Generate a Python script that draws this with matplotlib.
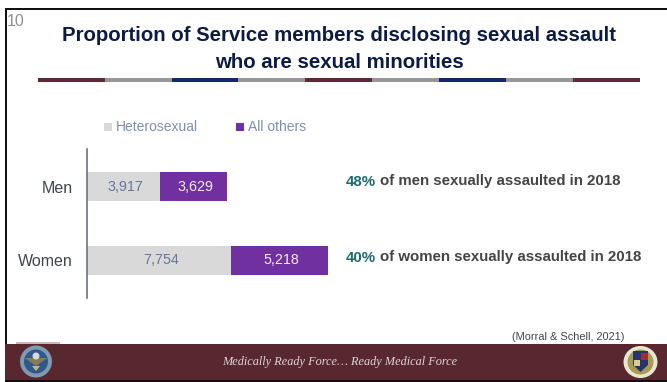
import matplotlib
matplotlib.use('Agg')
import matplotlib.pyplot as plt
from matplotlib.patches import Rectangle, Circle, Ellipse, Polygon

W, H = 667, 382

groups = ['Men', 'Women']
heterosexual = [3917, 7754]
all_others = [3629, 5218]
percents = ['48%', '40%']
notes = ['of men sexually assaulted in 2018', 'of women sexually assaulted in 2018']
rule_colors = ['#5f2a33', '#979797', '#14286b', '#979797', '#5f2a33',
               '#979797', '#14286b', '#979797', '#5f2a33']

plt.rcParams['font.family'] = ['Liberation Sans', 'DejaVu Sans']
fig = plt.figure(figsize=(W / 100, H / 100), dpi=100)

# slide furniture, drawn in pixel coordinates
bg = fig.add_axes([0, 0, 1, 1])
bg.set_xlim(0, W)
bg.set_ylim(H, 0)
bg.axis('off')

bg.add_patch(Rectangle((4.5, 8), W - 4.5, 2, color='#111111', lw=0))
bg.add_patch(Rectangle((4.5, 8), 2, 372, color='#111111', lw=0))
bg.add_patch(Rectangle((5, 343.5), W - 5, 36.5, color='#582730', lw=0))
bg.add_patch(Rectangle((4.5, 380), W - 4.5, 2, color='#111111', lw=0))
bg.add_patch(Rectangle((16, 342.3), 44, 1.2, color='#c9b9bc', lw=0))

bg.text(6.5, 21, '10', fontsize=11.5, color='#8f8f8f', ha='left', va='center')
bg.text(339.5, 35.5, 'Proportion of Service members disclosing sexual assault',
        fontsize=14.7, fontweight='bold', color='#0c1a48', ha='center', va='center')
bg.text(339.5, 62.5, 'who are sexual minorities',
        fontsize=14.7, fontweight='bold', color='#0c1a48', ha='center', va='center')

# segmented rule under the title
seg = (640 - 37.7) / len(rule_colors)
for i, c in enumerate(rule_colors):
    bg.add_patch(Rectangle((37.7 + i * seg, 78), seg, 4, color=c, lw=0))

# legend
bg.add_patch(Rectangle((104, 123), 8, 8, color='#d9d9d9', lw=0))
bg.text(115.5, 127.2, 'Heterosexual', fontsize=10, color='#7d8fb0', va='center')
bg.add_patch(Rectangle((236, 123), 8, 8, color='#7030a0', lw=0))
bg.text(247.5, 127.2, 'All others', fontsize=10, color='#7d8fb0', va='center')

# bars
ax = fig.add_axes([87 / W, 1 - 298 / H, 300 / W, 149 / H])
ax.patch.set_alpha(0)
ypos = range(len(groups))
ax.barh(ypos, heterosexual, height=0.4, color='#d9d9d9')
ax.barh(ypos, all_others, left=heterosexual, height=0.4, color='#7030a0')
ax.set_xlim(0, 300 * 12972 / 241)
ax.set_ylim(1.507, -0.507)
ax.set_xticks([])
ax.set_yticks(list(ypos))
ax.set_yticklabels(groups, fontsize=11.5, color='#3f4650')
ax.tick_params(axis='y', length=0, pad=10.5)
for s in ['top', 'right', 'bottom']:
    ax.spines[s].set_visible(False)
ax.spines['left'].set_color('#6b7280')
ax.spines['left'].set_linewidth(1.2)

for i in ypos:
    h, o = heterosexual[i], all_others[i]
    ax.text(h / 2 + 100, i, f'{h:,}', fontsize=10.3, color='#64779c', ha='center', va='center')
    ax.text(h + o / 2 + 80, i, f'{o:,}', fontsize=10.3, color='#f2eef7', ha='center', va='center')

# callouts to the right of the bars
for y, pct, note in zip([181.5, 257.5], percents, notes):
    t = bg.text(345.5, y, pct, fontsize=10.8, fontweight='bold', color='#1f6b70', va='center')
    bg.annotate(note, xy=(1, 0.5), xycoords=t, xytext=(3, 0), textcoords='offset points',
                fontsize=10.8, fontweight='bold', color='#444444', va='center')

bg.text(624, 336.5, '(Morral & Schell, 2021)', fontsize=7.9, color='#444444',
        ha='right', va='center')
bg.text(339.5, 362.5, 'Medically Ready Force… Ready Medical Force', fontsize=8.8,
        style='italic', color='#e0d6d8', ha='center', va='center',
        family=['Liberation Serif', 'DejaVu Serif'])

# seals in the footer
bg.add_patch(Circle((36, 361.5), 16, color='#7f9bb0', lw=0))
bg.add_patch(Circle((36, 361.5), 12, color='#2f5a86', lw=0))
bg.add_patch(Polygon([(25, 358), (47, 358), (36, 366)], color='#8c7a55', lw=0))
bg.add_patch(Circle((36, 356), 3.5, color='#d7dde2', lw=0))
bg.add_patch(Polygon([(32, 366), (40, 366), (36, 371)], color='#c9b48a', lw=0))
bg.add_patch(Ellipse((640.5, 362), 34, 32, color='#e9e6cf', lw=0))
bg.add_patch(Ellipse((640.5, 362), 26, 25, color='#a89c55', lw=0))
bg.add_patch(Polygon([(633, 351), (648, 351), (648, 365), (640.5, 372), (633, 365)],
                     color='#27336b', lw=0))
bg.add_patch(Rectangle((640.5, 353), 7, 7, color='#9c2f35', lw=0))
bg.add_patch(Rectangle((634, 360), 6, 6, color='#d8cf8a', lw=0))

fig.savefig('out.png', dpi=100)
